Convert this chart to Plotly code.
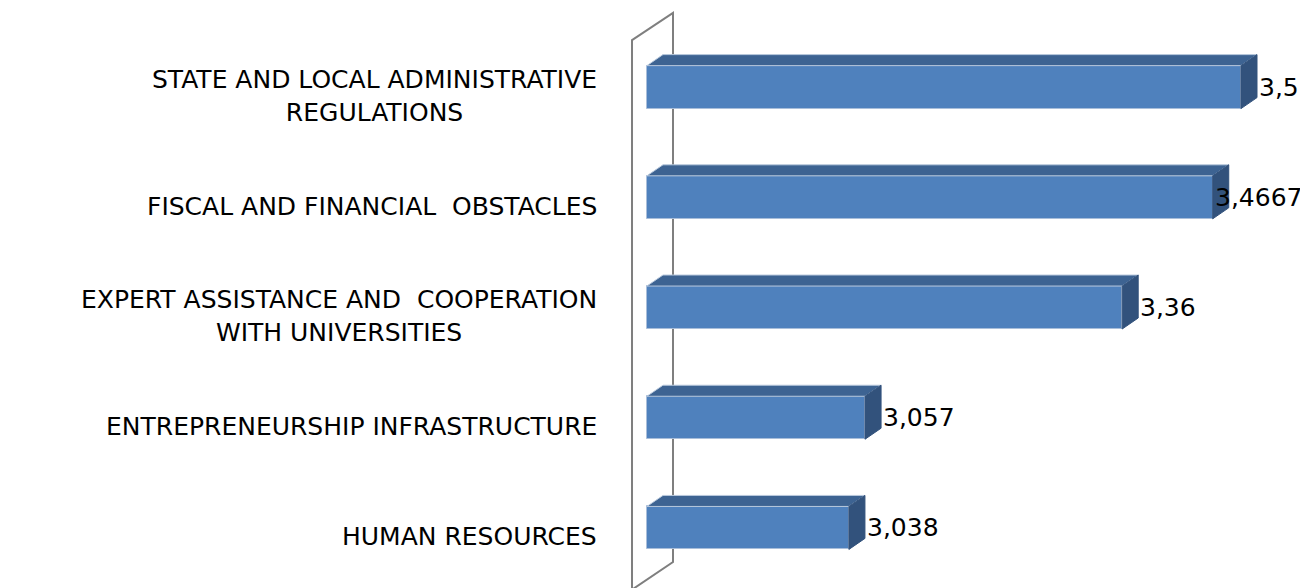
import plotly.graph_objects as go

# ---- data ----
categories = [
    "HUMAN RESOURCES",
    "ENTREPRENEURSHIP INFRASTRUCTURE",
    "EXPERT ASSISTANCE AND  COOPERATION<br>WITH UNIVERSITIES",
    "FISCAL AND FINANCIAL  OBSTACLES",
    "STATE AND LOCAL ADMINISTRATIVE<br>REGULATIONS",
]
values = [3.038, 3.057, 3.36, 3.4667, 3.5]
value_labels = ["3,038", "3,057", "3,36", "3,4667", "3,5"]

# ---- style / geometry ----
X_BASE = 2.8
X_RANGE = [2.76, 3.579]
Y_RANGE = [-0.545, 4.718]
BAR_W = 0.39
DX = 0.0189   # 3D depth (x, data units)
DY = 0.10     # 3D depth (y, data units)
LABEL_DY = -0.08
FRONT = "#4F81BD"
TOP = "#3D6392"
SIDE = "#32527C"
FONT = "DejaVu Sans"
LABEL_PAD = 0.0            # gap after side face (data units)
LABEL_CHAR_W = 0.0185      # approx value-label width per char (data units)

ypos = list(range(len(categories)))

fig = go.Figure()

# 3D top and side faces built from the values
for y, v in zip(ypos, values):
    h = BAR_W / 2
    fig.add_trace(go.Scatter(
        x=[X_BASE, v, v + DX, X_BASE + DX, X_BASE],
        y=[y + h, y + h, y + h + DY, y + h + DY, y + h],
        fill="toself", fillcolor=TOP, mode="lines",
        line=dict(color="#B9C9DD", width=1), hoverinfo="skip", showlegend=False))
    fig.add_trace(go.Scatter(
        x=[v, v + DX, v + DX, v, v],
        y=[y - h, y - h + DY, y + h + DY, y + h, y - h],
        fill="toself", fillcolor=SIDE, mode="lines",
        line=dict(color=SIDE, width=1), hoverinfo="skip", showlegend=False))

# front faces
fig.add_trace(go.Bar(
    x=[v - X_BASE for v in values], base=X_BASE, y=ypos, orientation="h",
    width=BAR_W, marker=dict(color=FRONT, line=dict(color="#A9BEDA", width=1)),
    showlegend=False, hoverinfo="skip"))

# value labels (placed after the bar's side face, pulled back if they would overflow)
for y, v, t in zip(ypos, values, value_labels):
    lx = v + DX + LABEL_PAD
    w = len(t) * LABEL_CHAR_W
    if lx + w > X_RANGE[1]:
        lx = v
    fig.add_annotation(x=lx, y=y, text=t, showarrow=False, xanchor="left",
                       yanchor="middle", xref="x", yref="y",
                       font=dict(family=FONT, size=25, color="#000000"))

# category labels (centred multi-line, right-anchored next to the wall)
for y, c in zip(ypos, categories):
    fig.add_annotation(x=0, xref="paper", xanchor="right", xshift=-14,
                       y=y + LABEL_DY, yref="y", yanchor="middle",
                       text=c, align="center", showarrow=False,
                       font=dict(family=FONT, size=25, color="#000000"))

# back wall outline
wx0, wx1 = 2.7824, 2.8307
fig.add_shape(type="path", layer="below",
              path=f"M {wx0},4.427 L {wx1},4.673 L {wx1},-0.309 L {wx0},-0.56 Z",
              line=dict(color="#7F7F7F", width=2), xref="x", yref="y")

fig.update_layout(
    width=1300, height=580,
    margin=dict(l=605, r=0, t=0, b=0),
    plot_bgcolor="white", paper_bgcolor="white",
    xaxis=dict(range=X_RANGE, visible=False, showgrid=False, zeroline=False),
    yaxis=dict(range=Y_RANGE, showticklabels=False,
               showgrid=False, zeroline=False, showline=False, ticks=""),
    bargap=0,
)

fig.write_html("out.html")
